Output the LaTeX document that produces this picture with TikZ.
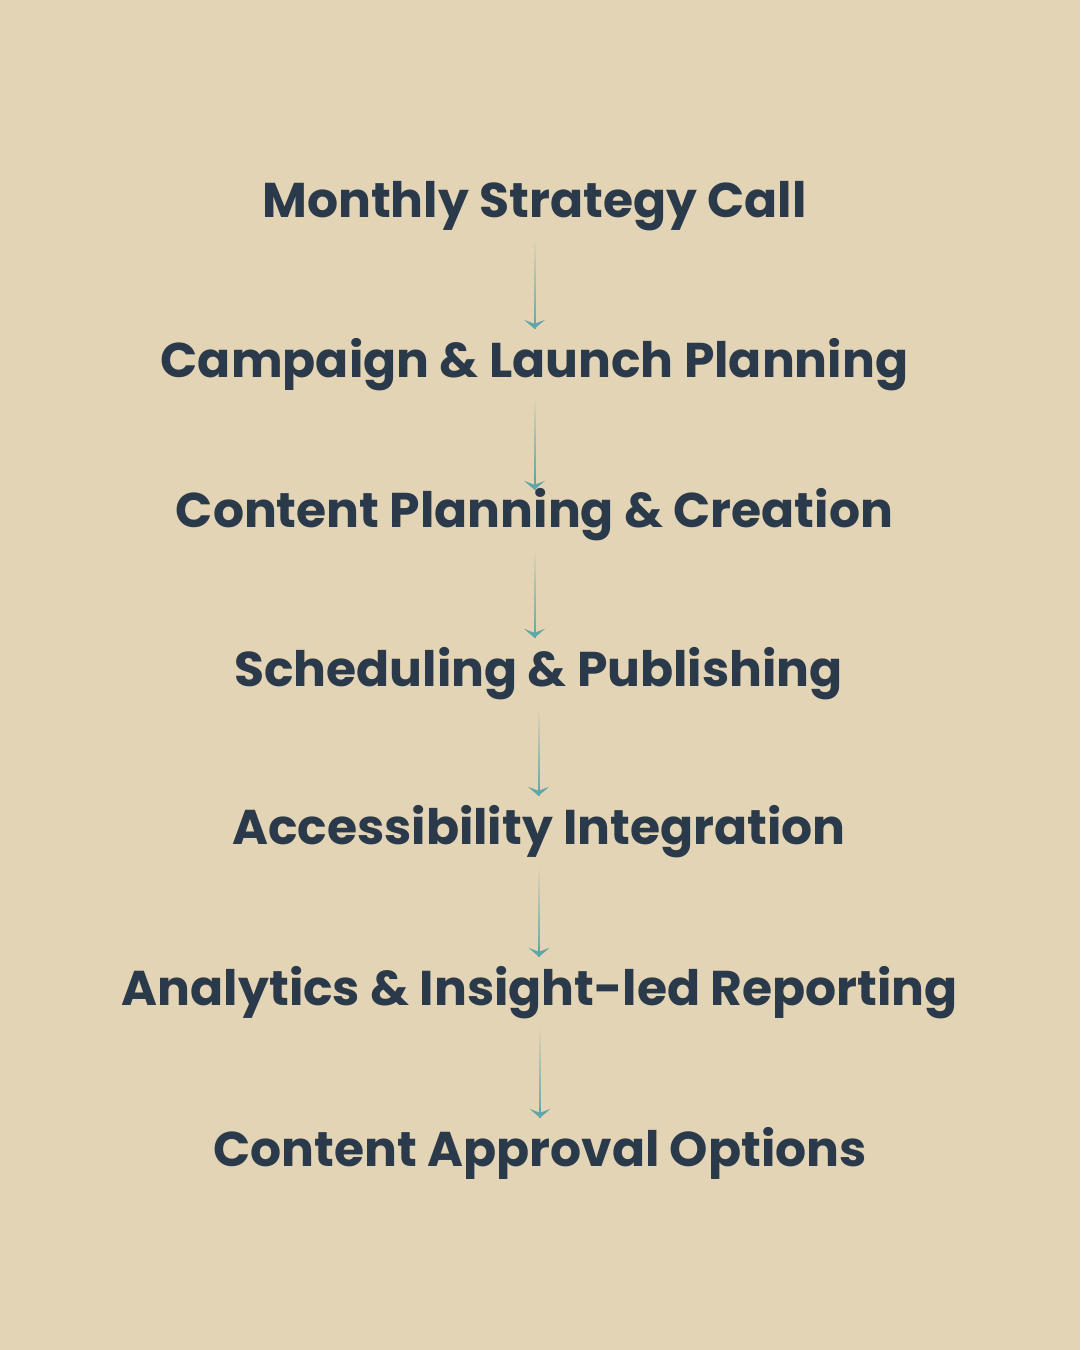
\documentclass[tikz,border=0pt]{standalone}
\usepackage{fontspec}
\setmainfont{Poppins}
\usetikzlibrary{arrows.meta,fadings}
\definecolor{bgc}{HTML}{E3D4B5}
\definecolor{txt}{HTML}{2A3A4A}
\definecolor{tealc}{HTML}{5FA6A8}
\tikzfading[name=fadedown, top color=transparent!100, middle color=transparent!25, bottom color=transparent!0]
\tikzset{
  stepnode/.style={inner sep=0pt, text height=48pt, text depth=23pt, text=txt,
    font=\fontsize{48.8}{58}\selectfont\bfseries, anchor=base},
  flowline/.style={draw=tealc, line width=2pt, path fading=fadedown},
  flowtip/.style={draw=tealc, fill=tealc, line width=1.6pt, shorten <=80pt,
    -{Stealth[length=9pt,width=21pt,inset=4pt]}}
}
\begin{document}
\begin{tikzpicture}[x=1pt,y=-1pt]
\fill[bgc] (0,0) rectangle (1080,1350);
\useasboundingbox (0,0) rectangle (1080,1350);
\node[stepnode] (n1) at (534.5,217) {Monthly Strategy Call};
\node[stepnode] (n2) at (534.5,377) {Campaign \& Launch Planning};
\node[stepnode] (n3) at (534.5,527) {Content Planning \& Creation};
\node[stepnode] (n4) at (538.5,686) {Scheduling \& Publishing};
\node[stepnode] (n5) at (539,844) {Accessibility Integration};
\node[stepnode] (n6) at (540,1005) {Analytics \& Insight-led Reporting};
\node[stepnode] (n7) at (540,1166) {Content Approval Options};
\foreach \a/\b/\ext in {n1/n2/0, n2/n3/11, n3/n4/0, n4/n5/0, n5/n6/0, n6/n7/0}{
  \draw[flowline, shorten >=-\ext pt] (\a.south) -- (\a.south |- \b.north);
  \draw[flowtip, shorten >=-\ext pt] (\a.south) -- (\a.south |- \b.north);
}
\end{tikzpicture}
\end{document}
